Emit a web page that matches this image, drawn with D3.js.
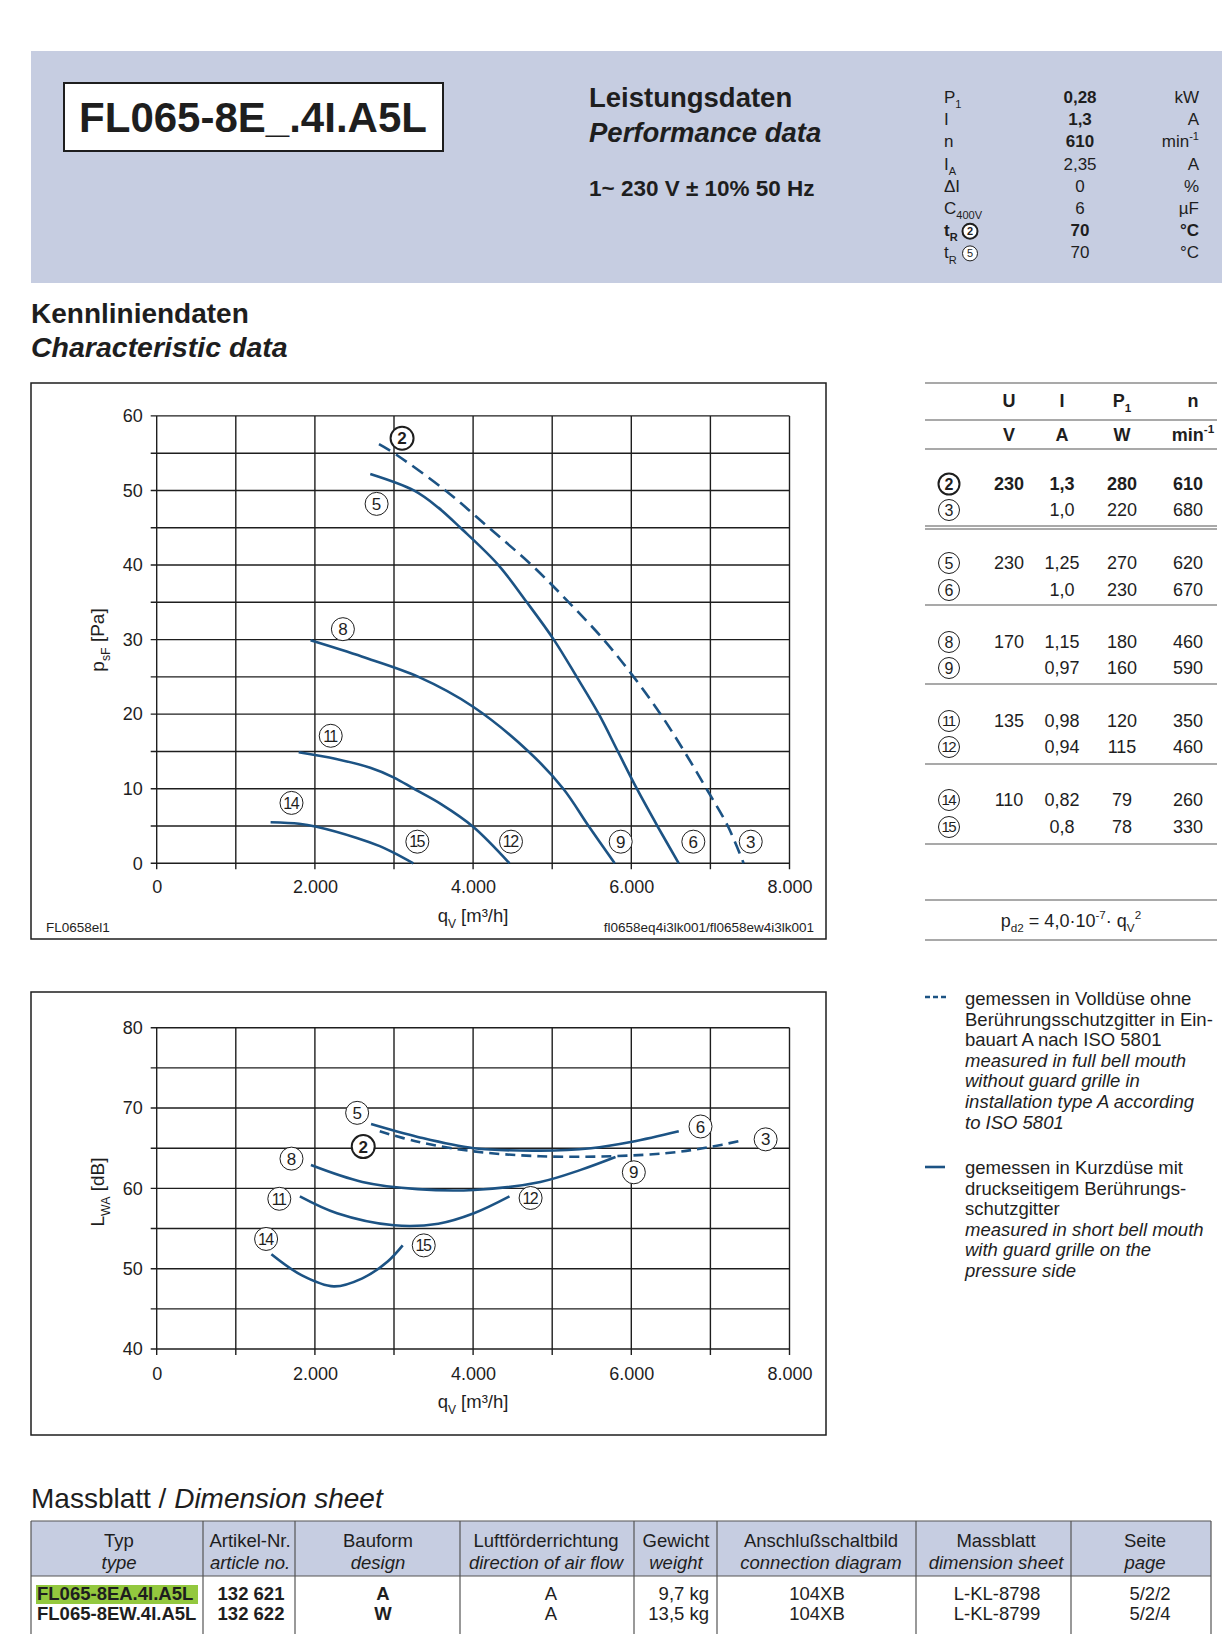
<!DOCTYPE html>
<html>
<head>
<meta charset="utf-8">
<script src="https://cdn.jsdelivr.net/npm/d3@7"></script>
<style>
  body { margin: 0; background: #fff; }
  svg text { font-family: "Liberation Sans", Arial, Helvetica, sans-serif; fill: #1e1e1e; }
</style>
</head>
<body>
<svg id="page" width="1227" height="1634"></svg>
<script>
// ---- data ----
var typeName = "FL065-8E_.4I.A5L";

var perfSym   = ["P", "I", "n", "I", "ΔI", "C", "t", "t"];
var perfSub   = ["1", "", "", "A", "", "400V", "R", "R"];
var perfCirc  = ["", "", "", "", "", "", "2", "5"];
var perfVal   = ["0,28", "1,3", "610", "2,35", "0", "6", "70", "70"];
var perfUnit  = ["kW", "A", "min", "A", "%", "µF", "°C", "°C"];
var perfBold  = [1, 1, 1, 0, 0, 0, 1, 0];

var qvTicks  = [0, 2000, 4000, 6000, 8000];
var psfTicks = [0, 10, 20, 30, 40, 50, 60];
var lwaTicks = [40, 50, 60, 70, 80];

// pressure curves [qV m3/h, psF Pa]
var psf2  = [[2810, 56.2], [3000, 55], [3650, 50], [4200, 45], [4740, 40], [5210, 35], [5650, 30], [6030, 25], [6370, 20], [6670, 15], [6950, 10], [7220, 5], [7420, 0]];
var psf5  = [[2700, 52.2], [3250, 50], [3560, 47.7], [3840, 45], [4320, 40], [4680, 35], [5020, 30], [5310, 25], [5590, 20], [5830, 15], [6070, 10], [6330, 5], [6600, 0]];
var psf8  = [[1945, 29.9], [2600, 27.7], [3310, 25], [4000, 21], [4700, 15], [5140, 10], [5460, 5], [5790, 0]];
var psf11 = [[1795, 14.9], [2270, 14.0], [2700, 12.8], [3000, 11.5], [3250, 10], [3600, 7.9], [4000, 4.9], [4460, 0]];
var psf14 = [[1440, 5.5], [1800, 5.3], [2020, 4.9], [2530, 3.4], [2820, 2.3], [3000, 1.4], [3245, 0]];

// sound power curves [qV m3/h, LWA dB]
var lwa2  = [[2820, 67.1], [3300, 65.8], [4010, 64.6], [4850, 64.0], [5750, 64.0], [6460, 64.4], [6970, 65.1], [7420, 66.0]];
var lwa5  = [[2710, 68.0], [3300, 66.4], [4010, 65.0], [4850, 64.7], [5490, 65.0], [6010, 65.8], [6600, 67.1]];
var lwa8  = [[1950, 62.9], [2600, 60.8], [3300, 59.9], [4010, 59.8], [4850, 60.8], [5360, 62.3], [5800, 63.9]];
var lwa11 = [[1810, 59.0], [2280, 56.9], [3000, 55.4], [3560, 55.6], [4010, 56.9], [4460, 59.0]];
var lwa14 = [[1450, 51.8], [1830, 49.2], [2240, 47.8], [2600, 48.8], [2920, 50.9], [3110, 52.9]];

// curve label positions [id, qV, value]
var psfLabels = [["2", 3102, 57.0], ["5", 2780, 48.2], ["8", 2354, 31.4], ["11", 2200, 17.1], ["14", 1704, 8.1],
                 ["15", 3295, 2.9], ["12", 4479, 2.9], ["9", 5866, 2.9], ["6", 6784, 2.9], ["3", 7510, 2.9]];
var lwaLabels = [["5", 2534, 69.4], ["2", 2611, 65.2], ["8", 1704, 63.7], ["11", 1550, 58.7], ["14", 1383, 53.7],
                 ["15", 3376, 52.9], ["12", 4727, 58.8], ["9", 6032, 62.0], ["6", 6875, 67.7], ["3", 7698, 66.1]];

// operating point table
var tabIds = ["2", "3", "5", "6", "8", "9", "11", "12", "14", "15"];
var tabU   = ["230", "", "230", "", "170", "", "135", "", "110", ""];
var tabI   = ["1,3", "1,0", "1,25", "1,0", "1,15", "0,97", "0,98", "0,94", "0,82", "0,8"];
var tabP   = ["280", "220", "270", "230", "180", "160", "120", "115", "79", "78"];
var tabN   = ["610", "680", "620", "670", "460", "590", "350", "460", "260", "330"];

var legendDe1 = ["gemessen in Volldüse ohne", "Berührungsschutzgitter in Ein-", "bauart A nach ISO 5801"];
var legendEn1 = ["measured in full bell mouth", "without guard grille in", "installation type A according", "to ISO 5801"];
var legendDe2 = ["gemessen in Kurzdüse mit", "druckseitigem Berührungs-", "schutzgitter"];
var legendEn2 = ["measured in short bell mouth", "with guard grille on the", "pressure side"];

var dimHead1 = ["Typ", "Artikel-Nr.", "Bauform", "Luftförderrichtung", "Gewicht", "Anschlußschaltbild", "Massblatt", "Seite"];
var dimHead2 = ["type", "article no.", "design", "direction of air flow", "weight", "connection diagram", "dimension sheet", "page"];
var dimRow1  = ["FL065-8EA.4I.A5L", "132 621", "A", "A", "9,7 kg", "104XB", "L-KL-8798", "5/2/2"];
var dimRow2  = ["FL065-8EW.4I.A5L", "132 622", "W", "A", "13,5 kg", "104XB", "L-KL-8799", "5/2/4"];

// ---- drawing ----
var svg = d3.select("#page");
var ink = "#1e1e1e", blue = "#1c5384", band = "#c6cde1", rule = "#555";

svg.append("rect").attr("width", 1227).attr("height", 1634).attr("fill", "#fff");

// text with sub/superscript parts
function rich(sel, parts, size) {
    var shift = 0;
    parts.forEach(function (p) {
        var want = p[1] === "sub" ? size * 0.3 : p[1] === "sup" ? -size * 0.42 : 0;
        var t = sel.append("tspan").text(p[0]).attr("dy", want - shift);
        if (p[1]) t.attr("font-size", size * 0.65);
        shift = want;
    });
    return sel;
}

function circled(g, cx, cy, label, bold, r, size) {
    var two = label.length > 1;
    g.append("circle").attr("cx", cx).attr("cy", cy).attr("r", r)
        .attr("fill", "#fff").attr("stroke", ink).attr("stroke-width", bold ? 2 : 1);
    g.append("text").attr("x", cx).attr("y", cy).attr("dy", "0.36em")
        .attr("text-anchor", "middle").attr("font-size", two ? size - 1 : size)
        .attr("font-weight", bold ? "bold" : "normal")
        .attr("letter-spacing", two ? -1.5 : 0)
        .attr("dx", two ? -0.75 : 0)
        .text(label);
}

//header band
svg.append("rect").attr("x", 31).attr("y", 51).attr("width", 1191).attr("height", 232).attr("fill", band);
svg.append("rect").attr("x", 64).attr("y", 83).attr("width", 379).attr("height", 68)
    .attr("fill", "#fff").attr("stroke", ink).attr("stroke-width", 2);
svg.append("text").attr("x", 253).attr("y", 132).attr("text-anchor", "middle")
    .attr("font-size", 42).attr("font-weight", "bold").text(typeName);

svg.append("text").attr("x", 589).attr("y", 107).attr("font-size", 27.5).attr("font-weight", "bold").text("Leistungsdaten");
svg.append("text").attr("x", 589).attr("y", 142).attr("font-size", 27.5).attr("font-weight", "bold")
    .attr("font-style", "italic").text("Performance data");
svg.append("text").attr("x", 589).attr("y", 196).attr("font-size", 22.5).attr("font-weight", "bold").text("1~ 230 V ± 10% 50 Hz");

var perf = svg.append("g");
perfSym.forEach(function (s, i) {
    var yb = 103 + i * 22.2;
    var w = perfBold[i] ? "bold" : "normal";
    var lab = perf.append("text").attr("x", 944).attr("y", yb).attr("font-size", 17);
    if (i === 6) lab.attr("font-weight", "bold");
    rich(lab, perfSub[i] ? [[s], [perfSub[i], "sub"]] : [[s]], 17);
    if (perfCirc[i]) circled(perf, 970, yb - 5, perfCirc[i], i === 6, 7.5, 11);
    perf.append("text").attr("x", 1080).attr("y", yb).attr("text-anchor", "middle")
        .attr("font-size", 17).attr("font-weight", w).text(perfVal[i]);
    var u = perf.append("text").attr("x", 1199).attr("y", yb).attr("text-anchor", "end")
        .attr("font-size", 17).attr("font-weight", i === 6 ? "bold" : "normal");
    if (perfUnit[i] === "min") rich(u, [["min"], ["-1", "sup"]], 17);
    else u.text(perfUnit[i]);
});

svg.append("text").attr("x", 31).attr("y", 323).attr("font-size", 28).attr("font-weight", "bold").text("Kennliniendaten");
svg.append("text").attr("x", 31).attr("y", 357).attr("font-size", 28.5).attr("font-weight", "bold")
    .attr("font-style", "italic").text("Characteristic data");

// ---- charts ----
var x = d3.scaleLinear().domain([0, 8000]).range([156.7, 789.5]);
var fmtQ = function (d) { return d === 0 ? "0" : d3.format(",")(d).replace(",", "."); };

function drawChart(o) {
    var g = svg.append("g");
    var y = d3.scaleLinear().domain(o.yDomain).range(o.yRange);
    g.append("rect").attr("x", 31).attr("y", o.frame[0]).attr("width", 795).attr("height", o.frame[1] - o.frame[0])
        .attr("fill", "none").attr("stroke", ink).attr("stroke-width", 1.5);

    //grid with small outer ticks
    g.selectAll(".gv").data(d3.range(0, 8001, 1000)).enter().append("line")
        .attr("x1", function (d) { return x(d); }).attr("x2", function (d) { return x(d); })
        .attr("y1", o.yRange[0] + 6).attr("y2", o.yRange[1])
        .attr("stroke", ink).attr("stroke-width", 1.4);
    g.selectAll(".gh").data(d3.range(o.yDomain[0], o.yDomain[1] + 1, 5)).enter().append("line")
        .attr("x1", x(0) - 6).attr("x2", x(8000))
        .attr("y1", function (d) { return y(d); }).attr("y2", function (d) { return y(d); })
        .attr("stroke", ink).attr("stroke-width", 1.4);

    var ax = g.append("g").attr("transform", "translate(0," + o.yRange[0] + ")")
        .call(d3.axisBottom(x).tickValues(qvTicks).tickSize(0).tickPadding(o.xPad).tickFormat(fmtQ));
    var ay = g.append("g").attr("transform", "translate(" + x(0) + ",0)")
        .call(d3.axisLeft(y).tickValues(o.yTicks).tickSize(0).tickPadding(14));
    [ax, ay].forEach(function (a) {
        a.select(".domain").remove();
        a.selectAll("text").attr("font-size", 18).attr("fill", ink)
            .style("font-family", "'Liberation Sans', Arial, sans-serif");
    });

    // axis titles
    rich(g.append("text").attr("transform", "translate(" + o.yTitle[0] + "," + o.yTitle[1] + ") rotate(-90)")
        .attr("text-anchor", "middle").attr("font-size", 19), o.yTitleParts, 19);
    rich(g.append("text").attr("x", 473).attr("y", o.xTitleY).attr("text-anchor", "middle").attr("font-size", 18.5),
        [["q"], ["V", "sub"], [" [m³/h]"]], 18.5);

    var line = d3.line().x(function (d) { return x(d[0]); }).y(function (d) { return y(d[1]); })
        .curve(d3.curveCatmullRom.alpha(0.5));
    o.curves.forEach(function (c) {
        g.append("path").attr("d", line(c.data)).attr("fill", "none")
            .attr("stroke", blue).attr("stroke-width", 2.6)
            .attr("stroke-dasharray", c.dash ? o.dash : null);
    });
    o.labels.forEach(function (l) {
        circled(g, x(l[1]), y(l[2]), l[0], l[0] === "2", 11.5, 17);
    });
    return g;
}

var c1 = drawChart({
    frame: [383, 939], yDomain: [0, 60], yRange: [863.3, 415.9], yTicks: psfTicks, xPad: 17,
    yTitle: [104, 640], yTitleParts: [["p"], ["sF", "sub"], [" [Pa]"]], xTitleY: 922, dash: "13,7",
    curves: [{ data: psf2, dash: true }, { data: psf5 }, { data: psf8 }, { data: psf11 }, { data: psf14 }],
    labels: psfLabels
});
c1.append("text").attr("x", 46).attr("y", 932).attr("font-size", 13.5).text("FL0658el1");
c1.append("text").attr("x", 814).attr("y", 932).attr("font-size", 13.5).attr("text-anchor", "end")
    .text("fl0658eq4i3lk001/fl0658ew4i3lk001");

drawChart({
    frame: [992, 1435], yDomain: [40, 80], yRange: [1349, 1027.7], yTicks: lwaTicks, xPad: 18,
    yTitle: [104, 1192], yTitleParts: [["L"], ["WA", "sub"], [" [dB]"]], xTitleY: 1408, dash: "10,6",
    curves: [{ data: lwa2, dash: true }, { data: lwa5 }, { data: lwa8 }, { data: lwa11 }, { data: lwa14 }],
    labels: lwaLabels
});

// ---- operating point table ----
var tab = svg.append("g");
var colX = [949, 1009, 1062, 1122, 1188];
[383, 420, 449, 526, 529, 605, 684, 764, 844, 900, 940].forEach(function (ly) {
    tab.append("line").attr("x1", 925).attr("x2", 1217).attr("y1", ly).attr("y2", ly)
        .attr("stroke", rule).attr("stroke-width", 1.2);
});
var h1 = [[["U"]], [["I"]], [["P"], ["1", "sub"]], [["n"]]];
var h2 = [[["V"]], [["A"]], [["W"]], [["min"], ["-1", "sup"]]];
h1.forEach(function (p, i) {
    rich(tab.append("text").attr("x", colX[i + 1] + (i === 3 ? 5 : 0)).attr("y", 407).attr("text-anchor", "middle")
        .attr("font-size", 18).attr("font-weight", "bold"), p, 18);
    rich(tab.append("text").attr("x", colX[i + 1] + (i === 3 ? 5 : 0)).attr("y", 441).attr("text-anchor", "middle")
        .attr("font-size", 18).attr("font-weight", "bold"), h2[i], 18);
});
var rowY = [490, 516, 569, 596, 648, 674, 727, 753, 806, 833];
tabIds.forEach(function (id, i) {
    var w = i === 0 ? "bold" : "normal";
    circled(tab, colX[0], rowY[i] - 6, id, i === 0, 10.5, 16);
    [tabU[i], tabI[i], tabP[i], tabN[i]].forEach(function (v, j) {
        tab.append("text").attr("x", colX[j + 1]).attr("y", rowY[i]).attr("text-anchor", "middle")
            .attr("font-size", 18).attr("font-weight", w).text(v);
    });
});
rich(tab.append("text").attr("x", 1071).attr("y", 927).attr("text-anchor", "middle").attr("font-size", 18),
    [["p"], ["d2", "sub"], [" = 4,0·10"], ["-7", "sup"], ["· q"], ["V", "sub"], ["2", "sup"]], 18);

// ---- legend ----
var leg = svg.append("g");
leg.append("line").attr("x1", 925).attr("x2", 946).attr("y1", 997).attr("y2", 997)
    .attr("stroke", blue).attr("stroke-width", 2.6).attr("stroke-dasharray", "5,3");
leg.append("line").attr("x1", 925).attr("x2", 945).attr("y1", 1167).attr("y2", 1167)
    .attr("stroke", blue).attr("stroke-width", 2.6);
function legendBlock(de, en, y0) {
    de.concat(en).forEach(function (t, i) {
        leg.append("text").attr("x", 965).attr("y", y0 + i * 20.6).attr("font-size", 18.5)
            .attr("font-style", i >= de.length ? "italic" : "normal").text(t);
    });
}
legendBlock(legendDe1, legendEn1, 1005);
legendBlock(legendDe2, legendEn2, 1174);

// ---- dimension sheet ----
var dim = svg.append("g");
var title = dim.append("text").attr("x", 31).attr("y", 1508).attr("font-size", 28);
title.append("tspan").text("Massblatt / ");
title.append("tspan").attr("font-style", "italic").text("Dimension sheet");

var dimEdges = [31, 203, 295, 460, 634, 717, 916, 1071, 1211];
var headX = [119, 250, 378, 546, 676, 821, 996, 1145];
var cellX = [37, 251, 383, 551, 709, 817, 997, 1150];
dim.append("rect").attr("x", 31).attr("y", 1521).attr("width", 1180).attr("height", 55).attr("fill", band);
dim.append("rect").attr("x", 36).attr("y", 1585).attr("width", 162).attr("height", 19).attr("fill", "#93c83e");
dim.append("line").attr("x1", 31).attr("x2", 1211).attr("y1", 1521).attr("y2", 1521).attr("stroke", rule).attr("stroke-width", 1.2);
dim.append("line").attr("x1", 31).attr("x2", 1211).attr("y1", 1576).attr("y2", 1576).attr("stroke", rule).attr("stroke-width", 1.2);
dimEdges.forEach(function (ex) {
    dim.append("line").attr("x1", ex).attr("x2", ex).attr("y1", 1521).attr("y2", 1634)
        .attr("stroke", rule).attr("stroke-width", 1.2);
});
dimHead1.forEach(function (t, i) {
    dim.append("text").attr("x", headX[i]).attr("y", 1547).attr("text-anchor", "middle").attr("font-size", 18.5).text(t);
    dim.append("text").attr("x", headX[i]).attr("y", 1569).attr("text-anchor", "middle").attr("font-size", 18.5)
        .attr("font-style", "italic").text(dimHead2[i]);
});
[dimRow1, dimRow2].forEach(function (row, r) {
    var yb = 1600 + r * 20;
    row.forEach(function (t, i) {
        var tx = dim.append("text").attr("x", cellX[i]).attr("y", yb).attr("font-size", 18.5).text(t);
        if (i === 4) tx.attr("text-anchor", "end");
        else if (i > 0) tx.attr("text-anchor", "middle");
        if (i < 3) tx.attr("font-weight", "bold");
    });
});
</script>
</body>
</html>
